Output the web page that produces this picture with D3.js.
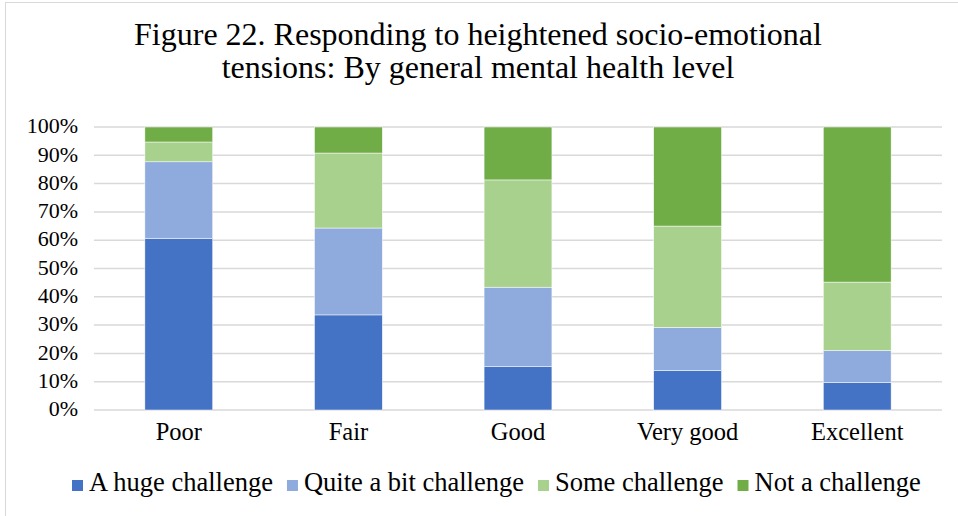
<!DOCTYPE html>
<html>
<head>
<meta charset="utf-8">
<script src="https://cdn.jsdelivr.net/npm/d3@7"></script>
<style>
  body { margin: 0; background: #fff; }
  text { font-family: "Liberation Serif", "Times New Roman", serif; fill: #000; }
</style>
</head>
<body>
<div id="chart"></div>
<script>
// data (percent of respondents)
const categories = ['Poor', 'Fair', 'Good', 'Very good', 'Excellent']
const seriesNames = ['A huge challenge', 'Quite a bit challenge', 'Some challenge', 'Not a challenge']
const hugeChallenge = [60.7, 33.6, 15.3, 14.0, 9.7]
const quiteABit = [27.0, 30.7, 28.1, 15.2, 11.3]
const someChallenge = [7.0, 26.5, 37.9, 35.8, 24.2]
const notAChallenge = [5.3, 9.2, 18.7, 35.0, 54.8]
const yTicks = [0, 10, 20, 30, 40, 50, 60, 70, 80, 90, 100]
const colors = ['#4472C4', '#8FAADC', '#A9D18E', '#70AD47']

const width = 958, height = 516
const margin = {left: 94, right: 16, top: 127, bottom: 106}

const svg = d3.select('#chart').append('svg')
  .attr('width', width)
  .attr('height', height)

// chart frame
svg.append('rect')
  .attr('x', 5.5).attr('y', 2.5)
  .attr('width', width + 10).attr('height', height + 10)
  .attr('fill', '#fff').attr('stroke', '#d9d9d9').attr('stroke-width', 1)

// build rows for the stack
const rows = categories.map((c, i) => ({
  cat: c,
  [seriesNames[0]]: hugeChallenge[i],
  [seriesNames[1]]: quiteABit[i],
  [seriesNames[2]]: someChallenge[i],
  [seriesNames[3]]: notAChallenge[i]
}))
const stacked = d3.stack().keys(seriesNames)(rows)

const x = d3.scaleBand()
  .domain(categories)
  .range([margin.left, width - margin.right])
  .paddingInner(0.6)
  .paddingOuter(0.3)

const y = d3.scaleLinear()
  .domain([0, 100])
  .range([height - margin.bottom, margin.top])

// gridlines
svg.append('g')
  .selectAll('line')
  .data(yTicks)
  .join('line')
  .attr('x1', margin.left).attr('x2', width - margin.right)
  .attr('y1', d => y(d)).attr('y2', d => y(d))
  .attr('stroke', '#d9d9d9').attr('stroke-width', 1.5)

// y axis labels
const yAxis = svg.append('g')
  .attr('transform', `translate(${margin.left},0)`)
  .call(d3.axisLeft(y).tickValues(yTicks).tickFormat(d => d + '%').tickSize(0).tickPadding(16))
yAxis.select('.domain').remove()
yAxis.selectAll('text')
  .attr('dy', '0.26em')
  .style('font-family', '"Liberation Serif", serif')
  .style('font-size', '22px')

// bars
svg.append('g')
  .selectAll('g')
  .data(stacked)
  .join('g')
  .attr('fill', (d, i) => colors[i])
  .selectAll('rect')
  .data(d => d)
  .join('rect')
  .attr('x', d => x(d.data.cat))
  .attr('y', d => y(d[1]))
  .attr('width', x.bandwidth())
  .attr('height', d => y(d[0]) - y(d[1]))
  .attr('stroke', '#fff').attr('stroke-width', 0.5)

// x axis labels
const xAxis = svg.append('g')
  .attr('transform', `translate(0,${height - margin.bottom})`)
  .call(d3.axisBottom(x).tickSize(0).tickPadding(0))
xAxis.select('.domain').remove()
xAxis.selectAll('text')
  .attr('y', 30).attr('dy', 0)
  .style('font-family', '"Liberation Serif", serif')
  .style('font-size', '24.5px')

// title
const title = svg.append('text')
  .attr('text-anchor', 'middle')
  .style('font-size', '32px')
title.append('tspan').attr('x', 478).attr('y', 45).text('Figure 22. Responding to heightened socio-emotional')
title.append('tspan').attr('x', 478).attr('y', 78).text('tensions: By general mental health level')

// legend
const legend = svg.append('g').attr('transform', 'translate(72,491)')
let lx = 0
seriesNames.forEach((name, i) => {
  const g = legend.append('g').attr('transform', `translate(${lx},0)`)
  g.append('rect').attr('x', 0).attr('y', -11).attr('width', 11).attr('height', 11).attr('fill', colors[i])
  const t = g.append('text').attr('x', 17).attr('y', 0).style('font-size', '26.5px').text(name)
  lx += 17 + t.node().getComputedTextLength() + 14
})
</script>
</body>
</html>
